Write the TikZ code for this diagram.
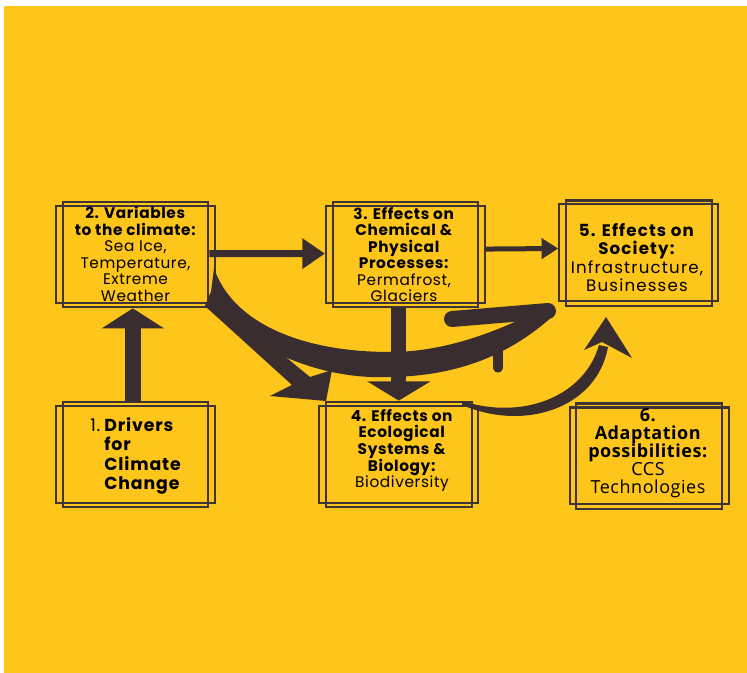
\documentclass[tikz,border=0pt]{standalone}
\usepackage{fontspec}
\setmainfont{Poppins}
\newfontfamily\popA[LetterSpace=4]{Poppins}
\newfontfamily\popB[LetterSpace=7]{Poppins}
\newfontfamily\popC[LetterSpace=5]{Poppins}
\newfontfamily\opensans[LetterSpace=3]{Open Sans}
\usetikzlibrary{arrows.meta,calc}
\definecolor{bgyellow}{RGB}{254,197,27}
\definecolor{ink}{RGB}{58,45,47}
\definecolor{frameink}{RGB}{62,52,54}
\begin{document}
\begin{tikzpicture}[x=0.75pt,y=-0.75pt,
  frameA/.style={draw=frameink,line width=1.6pt,minimum width=109.2pt,minimum height=79.2pt,inner sep=0pt},
  frameB/.style={draw=frameink,line width=1.6pt,minimum width=119.25pt,minimum height=72.5pt,inner sep=0pt},
  txt/.style={text=black,align=center,inner sep=0pt,font=\popA\fontsize{11.5}{12.4}\selectfont},
  bigtxt/.style={text=black,align=center,inner sep=0pt,font=\popB\fontsize{12.5}{13.8}\selectfont},
  conn/.style={draw=ink}
]
\useasboundingbox (0,0) rectangle (747,673);
\fill[white] (0,0) rectangle (747,673);
\fill[bgyellow] (4,6) rectangle (747,673);

% boxes: two offset frames each
\node[frameB] (b2x) at (135.5,254.4) {};
\node[frameA] (b2) at (135.5,254.5) {};
\node[frameB] (b3x) at (405.5,254.4) {};
\node[frameA] (b3) at (405.5,254.5) {};
\node[frameB] (b5x) at (638.8,252.5) {};
\node[frameA] (b5) at (638.8,253.3) {};
\node[frameB] (b1x) at (135.5,454.4) {};
\node[frameA] (b1) at (135.5,454.5) {};
\node[frameB] (b4x) at (398.8,454.4) {};
\node[frameA] (b4) at (398.8,454.5) {};
\node[frameB] (b6x) at (649.2,455.8) {};
\node[frameA] (b6) at (648.8,456.3) {};

% texts
\node[txt] (t2) at (135.5,254) {\textbf{2. Variables}\\\textbf{to the climate:}\\Sea Ice,\\Temperature,\\Extreme\\Weather};
\node[txt] (t3) at (404,254.5) {\textbf{3. Effects on}\\\textbf{Chemical \&}\\\textbf{Physical}\\\textbf{Processes:}\\Permafrost,\\Glaciers};
\node[bigtxt] (t5) at (637,257.5) {\textbf{5. Effects on}\\\textbf{Society:}\\Infrastructure,\\Businesses};
\node[text=black,inner sep=0pt,font=\popC\fontsize{13}{14.3}\selectfont] (t1) at (136,456)
  {\begin{tabular}{@{}l@{\hspace{3pt}}l@{}}1. & \textbf{Drivers}\\ & \textbf{for}\\ & \textbf{Climate}\\ & \textbf{Change}\end{tabular}};
\node[txt] (t4) at (402,450.5) {\textbf{4. Effects on}\\\textbf{Ecological}\\\textbf{Systems \&}\\\textbf{Biology:}\\Biodiversity};
\node[text=black,align=center,inner sep=0pt,font=\opensans\fontsize{13.5}{13.5}\selectfont] (t6) at (648,453)
  {\textbf{6.}\\\textbf{Adaptation}\\\textbf{possibilities:}\\CCS\\Technologies};

% straight connectors
\draw[conn,line width=12pt,-{Triangle[width=46pt,length=15pt]}] ([xshift=-2pt]b1.north) -- ([xshift=-2pt]b2.south);
\draw[conn,line width=5.25pt,-{Triangle[width=22pt,length=17pt]}] ([yshift=0.6pt]b2.east) -- ([yshift=0.6pt]b3x.west);
\draw[conn,line width=3.75pt,-{Triangle[width=15pt,length=12.5pt]}] ([yshift=4pt]b3x.east) -- ([yshift=3pt]b5x.west);
\draw[conn,line width=11pt,-{Triangle[width=47pt,length=14.5pt]}] (b3.south -| b4) -- (b4.north);

% big brush-stroke curved arrow (towards box 5)
\fill[ink] (214,268) .. controls (232,322) and (300,352) .. (390,352)
  .. controls (450,352) and (505,328) .. (548,306) -- (553,316)
  .. controls (515,350) and (465,376) .. (390,377)
  .. controls (320,380) and (255,350) .. (205,306) -- (211,292) -- cycle;
\draw[ink,line width=12pt,line cap=round] (452,319) -- (548,311);
\draw[ink,line width=7pt,line cap=round] (498,350) -- (498,368);

% diagonal arrow (towards box 4)
\fill[ink] (211,292) -- (205,306) -- (292,385) -- (270,396) -- (326,401)
  -- (332,370) -- (310,377) -- (288,359) -- cycle;

% thin curved arrow from box 4 to box 5
\fill[ink] (462,401) .. controls (525,421) and (585,395) .. (599,345)
  -- (608,347) .. controls (597,408) and (525,432) .. (462,405) -- cycle;
\fill[ink] (606,317) -- (584,350) -- (602,342) -- (632,358) -- cycle;
\end{tikzpicture}
\end{document}
